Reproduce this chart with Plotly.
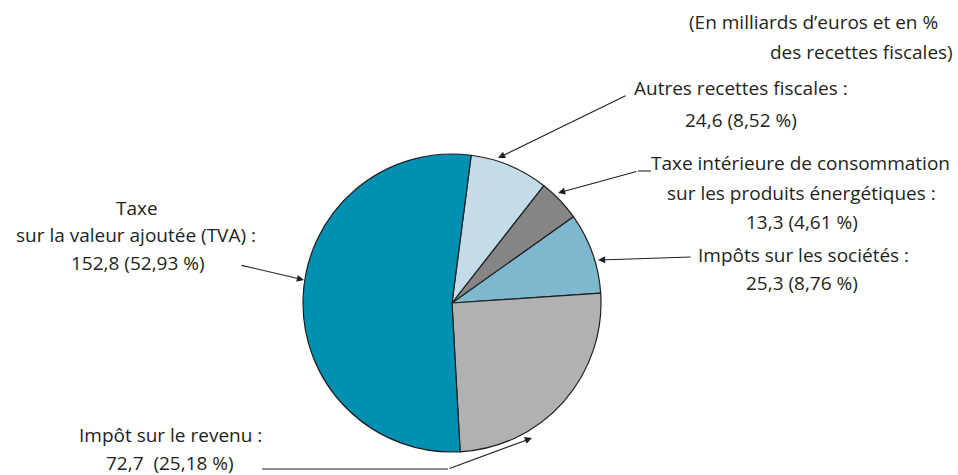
import plotly.graph_objects as go

W, H = 958, 475

# Data
categories = [
    "Autres recettes fiscales",
    "Taxe intérieure de consommation sur les produits énergétiques",
    "Impôts sur les sociétés",
    "Impôt sur le revenu",
    "Taxe sur la valeur ajoutée (TVA)",
]
values = [24.6, 13.3, 25.3, 72.7, 152.8]
colors = ["#c3dce8", "#858585", "#7eb8cf", "#b0b2b1", "#0090b2"]

# Label lines: (text, x_center_px, y_center_px)
label_lines = [
    ("(En milliards d’euros et en %", 813, 22),
    ("des recettes fiscales)", 861, 52),
    ("Autres recettes fiscales :", 741, 88),
    ("24,6 (8,52 %)", 741, 120),
    ("Taxe intérieure de consommation", 800, 163),
    ("sur les produits énergétiques :", 801, 193),
    ("13,3 (4,61 %)", 802, 222),
    ("Impôts sur les sociétés :", 803, 255),
    ("25,3 (8,76 %)", 802, 283),
    ("Taxe", 137, 208),
    ("sur la valeur ajoutée (TVA) :", 136, 235),
    ("152,8 (52,93 %)", 138, 263),
    ("Impôt sur le revenu :", 170, 435),
    ("72,7  (25,18 %)", 170, 463),
]

# Pie geometry in pixels
cx, cy, r = 452, 303, 149

def px(x):
    return x / W

def py(y):
    return 1 - y / H

fig = go.Figure()
fig.add_trace(go.Pie(
    labels=categories,
    values=values,
    sort=False,
    direction="clockwise",
    rotation=7.4,
    marker=dict(colors=colors, line=dict(color="#1f1f1f", width=1.2)),
    textinfo="none",
    hoverinfo="label+value+percent",
    showlegend=False,
    domain=dict(x=[px(cx - r), px(cx + r)], y=[py(cy + r), py(cy - r)]),
))

anns = []
for t, x, y in label_lines:
    anns.append(dict(
        text=t, x=px(x), y=py(y), xref="paper", yref="paper",
        xanchor="center", yanchor="middle", showarrow=False,
        font=dict(family="Open Sans", size=19, color="#231f20"),
    ))

# arrows: (tail_x, tail_y, tip_x, tip_y)
arrows = [
    (627, 95, 498, 158),
    (638, 171, 558, 193),
    (692, 257, 598, 260),
    (240, 265, 304, 280),
    (448, 469, 532, 438),
]
for tx, ty, hx, hy in arrows:
    anns.append(dict(
        text="", x=px(hx), y=py(hy), xref="paper", yref="paper",
        ax=tx - hx, ay=ty - hy,
        showarrow=True, arrowhead=2, arrowsize=1.3, arrowwidth=1.1,
        arrowcolor="#231f20",
    ))

shapes = [
    dict(type="line", xref="paper", yref="paper", x0=px(638), y0=py(171), x1=px(651), y1=py(171),
         line=dict(color="#231f20", width=1.1)),
    dict(type="line", xref="paper", yref="paper", x0=px(262), y0=py(469), x1=px(448), y1=py(469),
         line=dict(color="#231f20", width=1.1)),
]

fig.update_layout(
    width=W, height=H, autosize=False,
    margin=dict(l=0, r=0, t=0, b=0),
    paper_bgcolor="white", plot_bgcolor="white",
    annotations=anns, shapes=shapes,
)

fig.write_html(
    "out.html",
    config={"displayModeBar": False},
    post_script="document.body.style.margin='0px';document.body.style.overflow='hidden';",
)
